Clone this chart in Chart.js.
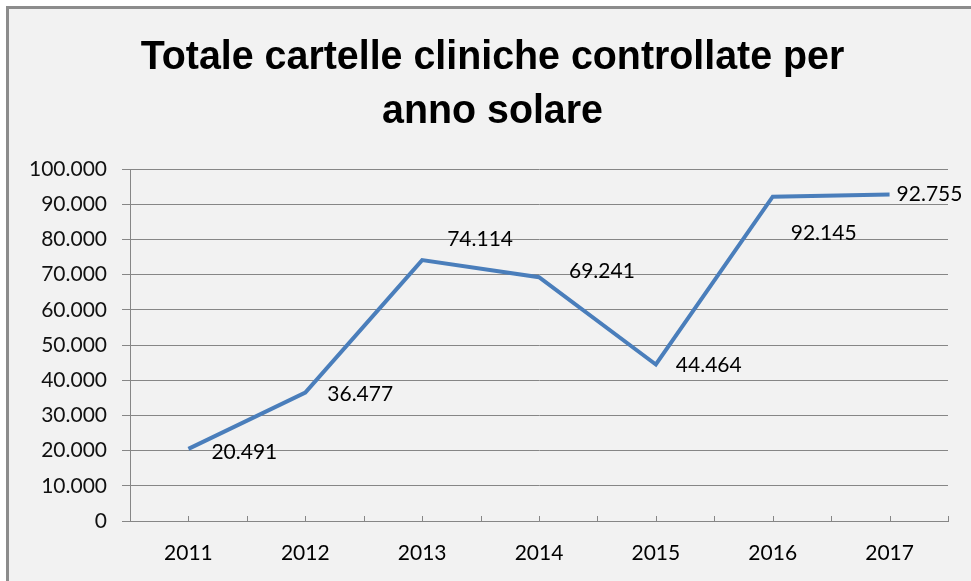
<!DOCTYPE html>
<html><head><meta charset="utf-8">
<script src="https://cdn.jsdelivr.net/npm/chart.js@4.4.1/dist/chart.umd.min.js"></script>
<style>
html,body{margin:0;padding:0;background:#fff;width:971px;height:581px;overflow:hidden;}
#frame{position:absolute;left:6px;top:6px;width:1000px;height:700px;border:3px solid #8c8c8c;background:#f2f2f2;}
#wrap{position:absolute;left:0;top:0;width:971px;height:581px;}
</style></head><body>
<div id="frame"></div>
<div id="wrap"><canvas id="c" width="971" height="581"></canvas></div>
<script>
// ---- data ----
const categories = ['2011', '2012', '2013', '2014', '2015', '2016', '2017'];
const values = [20491, 36477, 74114, 69241, 44464, 92145, 92755];
const yMin = 0;
const yMax = 100000;
const yStep = 10000;
const titleLines = ['Totale cartelle cliniche controllate per', 'anno solare'];

function fmt(v) {
  return String(Math.round(v)).replace(/\B(?=(\d{3})+(?!\d))/g, '.');
}

// chart title drawn slightly condensed (Calibri-like proportions)
const bigTitle = {
  id: 'bigTitle',
  afterDraw(chart, args, opts) {
    const ctx = chart.ctx;
    ctx.save();
    ctx.font = opts.font;
    ctx.fillStyle = opts.color;
    ctx.textAlign = 'center';
    ctx.textBaseline = 'alphabetic';
    const cx = chart.width / 2 + opts.shiftX;
    opts.lines.forEach((line, i) => {
      ctx.save();
      ctx.translate(cx, opts.firstBaseline + i * opts.lineGap);
      ctx.scale(opts.scaleX, 1);
      ctx.fillText(line, 0, 0);
      ctx.restore();
    });
    ctx.restore();
  }
};

const pointLabels = {
  id: 'pointLabels',
  afterDatasetsDraw(chart, args, opts) {
    const meta = chart.getDatasetMeta(0);
    const data = chart.data.datasets[0].data;
    const ctx = chart.ctx;
    ctx.save();
    ctx.font = opts.font;
    ctx.fillStyle = opts.color;
    ctx.textAlign = 'left';
    ctx.textBaseline = 'middle';
    meta.data.forEach((pt, i) => {
      const o = opts.offsets[i] || [0, 0];
      ctx.fillText(fmt(data[i]), pt.x + o[0], pt.y + o[1]);
    });
    ctx.restore();
  }
};

const xTickMarks = {
  id: 'xTickMarks',
  afterDraw(chart, args, opts) {
    const xs = chart.scales.x;
    const n = chart.data.labels.length;
    const ctx = chart.ctx;
    ctx.save();
    ctx.strokeStyle = opts.color;
    ctx.lineWidth = 1;
    const step = (xs.right - xs.left) / (n * 2);
    for (let i = 0; i <= n * 2; i++) {
      const x = Math.round(xs.left + i * step) + 0.5;
      ctx.beginPath();
      ctx.moveTo(x, xs.top);
      ctx.lineTo(x, xs.top - opts.length);
      ctx.stroke();
    }
    ctx.restore();
  }
};

new Chart(document.getElementById('c'), {
  type: 'line',
  data: {
    labels: categories,
    datasets: [{
      data: values,
      borderColor: '#4a7ebb',
      borderWidth: 4,
      pointRadius: 0,
      tension: 0,
      fill: false
    }]
  },
  plugins: [bigTitle, pointLabels, xTickMarks],
  options: {
    responsive: false,
    animation: false,
    devicePixelRatio: 1,
    layout: { padding: { left: 20, right: 23, top: 169, bottom: 0 } },
    plugins: {
      legend: { display: false },
      tooltip: { enabled: false },
      title: { display: false },
      bigTitle: {
        lines: titleLines,
        font: "bold 40px 'Liberation Sans', Arial, sans-serif",
        color: '#000',
        scaleX: 0.984,
        shiftX: 7,
        firstBaseline: 69,
        lineGap: 54
      },
      pointLabels: {
        font: "21px Lato",
        color: '#000',
        offsets: [[23, 3], [22, 2], [25, -21], [30, -6], [20, 1], [18, 37], [7, 0]]
      },
      xTickMarks: { color: '#868686', length: 5 }
    },
    scales: {
      x: {
        offset: true,
        grid: { display: false, drawTicks: false },
        border: { display: true, color: '#868686', width: 1 },
        ticks: { color: '#000', font: { family: 'Lato', size: 21 }, padding: 20, maxRotation: 0 },
        afterFit(scale) { scale.height = 60; }
      },
      y: {
        min: yMin,
        max: yMax,
        ticks: {
          stepSize: yStep,
          color: '#111',
          font: { family: 'Lato', size: 21 },
          padding: 15,
          callback: (v) => fmt(v)
        },
        grid: { color: '#868686', lineWidth: 1, tickLength: 8, drawTicks: true },
        border: { display: true, color: '#868686', width: 1 },
        afterFit(scale) { scale.width = 110; }
      }
    }
  }
});
</script>
</body></html>
